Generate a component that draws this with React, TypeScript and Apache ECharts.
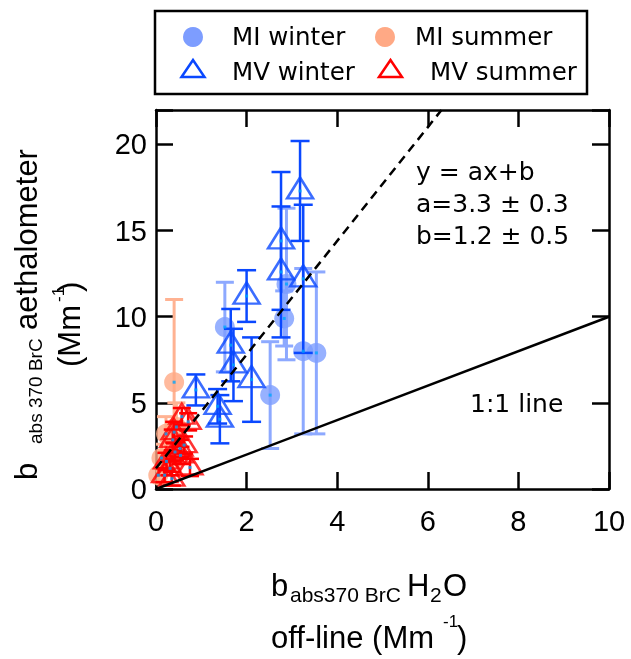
import React, { useEffect, useRef } from "react";
import * as echarts from "echarts";

// ---------- data ----------
// [x, y, error]
const MI_WINTER = [
  [2.88, 11.9, 4.4],
  [2.83, 9.9, 1.6],
  [3.25, 8.0, 4.8],
  [3.54, 7.9, 4.7],
  [2.52, 5.45, 3.1],
  [1.52, 9.4, 2.6],
];
const MI_SUMMER = [
  [0.4, 6.2, 4.8],
  [0.45, 3.6, 1.4],
  [0.22, 3.2, 1.0],
  [0.12, 1.8, 0.8],
  [0.05, 0.8, 0.5],
];
const MV_WINTER = [
  [3.18, 17.3, 2.9],
  [3.25, 12.2, 4.3],
  [2.76, 14.4, 4.0],
  [2.76, 12.6, 3.8],
  [2.0, 11.2, 1.5],
  [1.65, 8.35, 2.1],
  [1.71, 7.2, 2.1],
  [2.11, 6.35, 2.45],
  [0.88, 5.75, 0.9],
  [1.36, 4.8, 1.0],
  [1.41, 4.05, 1.4],
];
const MV_SUMMER = [
  [0.57, 4.2, 0.5],
  [0.71, 3.9, 0.5],
  [0.4, 3.3, 0.6],
  [0.37, 2.85, 0.6],
  [0.62, 2.55, 0.5],
  [0.53, 2.35, 0.5],
  [0.42, 2.15, 0.5],
  [0.54, 1.95, 0.5],
  [0.23, 1.6, 0.5],
  [0.75, 1.25, 0.5],
  [0.31, 1.2, 0.4],
  [0.19, 0.8, 0.4],
  [0.35, 0.6, 0.4],
];
const FIT_A = 3.3;
const FIT_B = 1.2;
const ONE_TO_ONE = [
  [0, 0],
  [10, 10],
];
const X_MIN = 0;
const X_MAX = 10;
const X_STEP = 2;
const Y_MIN = 0;
const Y_MAX = 22;
const Y_STEP = 5;
const LEGEND_LABELS = ["MI winter", "MI summer", "MV winter", "MV summer"];
const FIT_TEXT = ["y = ax+b", "a=3.3 \u00b1 0.3", "b=1.2 \u00b1 0.5"];
const LINE_TEXT = "1:1 line";

// ---------- styles ----------
const C_MIW = "#7D9DFF";
const C_MIW_ERR = "#8DA9FF";
const C_MIS = "#FFA985";
const C_MIS_ERR = "#FFB292";
const C_MVW = "#0A48FF";
const C_MVS = "#FF0000";
const C_DOT = "#00A8FF";
const SANS = "Liberation Sans, Arial, Helvetica, sans-serif";
const DV = "DejaVu Sans, Verdana, sans-serif";

function errRender(color: string, width: number, cap: number) {
  return (params: any, api: any) => {
    const x = api.value(0);
    const y = api.value(1);
    const e = api.value(2);
    const t = api.coord([x, y + e]);
    const b = api.coord([x, y - e]);
    const h = cap / 2;
    const st = { stroke: color, lineWidth: width };
    return {
      type: "group",
      children: [
        { type: "line", shape: { x1: t[0], y1: t[1], x2: b[0], y2: b[1] }, style: st },
        { type: "line", shape: { x1: t[0] - h, y1: t[1], x2: t[0] + h, y2: t[1] }, style: st },
        { type: "line", shape: { x1: b[0] - h, y1: b[1], x2: b[0] + h, y2: b[1] }, style: st },
      ],
    };
  };
}

function txt(text: string, x: number, baseline: number, fs: number, family: string, extra: any = {}) {
  return {
    type: "text",
    style: {
      text,
      x,
      y: baseline - 0.35 * fs,
      fontSize: fs,
      fontFamily: family,
      fill: "#000",
      textAlign: "left",
      textVerticalAlign: "middle",
      align: "left",
      verticalAlign: "middle",
      ...extra,
    },
  };
}

export default function App() {
  const ref = useRef<HTMLDivElement>(null);
  useEffect(() => {
    if (!ref.current) return;
    const chart = echarts.init(ref.current, undefined, { renderer: "svg" });

    const errSeries = (data: number[][], color: string, w: number, cap: number, z: number) => ({
      type: "custom",
      data,
      encode: { x: 0, y: 1 },
      renderItem: errRender(color, w, cap),
      silent: true,
      z,
      clip: true,
    });
    const markSeries = (data: number[][], symbol: string, size: any, style: any, z: number, offset: number[] = [0, 0]) => ({
      type: "scatter",
      data: data.map((d) => [d[0], d[1]]),
      symbol,
      symbolSize: size,
      symbolOffset: offset,
      itemStyle: style,
      silent: true,
      z,
      emphasis: { disabled: true },
    });

    const allPts = [...MI_WINTER, ...MI_SUMMER, ...MV_WINTER, ...MV_SUMMER];

    const axisCommon = {
      type: "value",
      axisLine: { show: true, onZero: false, lineStyle: { color: "#000", width: 2.5 } },
      axisTick: { show: true, inside: true, length: 17, lineStyle: { color: "#000", width: 2.5 } },
      splitLine: { show: false },
    };

    const option: any = {
      animation: false,
      grid: { left: 156, right: 22, top: 110, bottom: 170, containLabel: false },
      xAxis: [
        {
          ...axisCommon,
          position: "bottom",
          min: X_MIN,
          max: X_MAX,
          interval: X_STEP,
          axisLabel: { fontSize: 29, color: "#000", fontFamily: SANS, margin: 17 },
        },
        {
          ...axisCommon,
          position: "top",
          min: X_MIN,
          max: X_MAX,
          interval: X_STEP,
          axisLabel: { show: false },
        },
      ],
      yAxis: [
        {
          ...axisCommon,
          position: "left",
          min: Y_MIN,
          max: Y_MAX,
          interval: Y_STEP,
          axisLabel: {
            fontSize: 29,
            color: "#000",
            fontFamily: SANS,
            margin: 9,
            formatter: (v: number) => (v % Y_STEP === 0 ? String(v) : ""),
          },
        },
        {
          ...axisCommon,
          position: "right",
          min: Y_MIN,
          max: Y_MAX,
          interval: Y_STEP,
          axisLabel: { show: false },
        },
      ],
      series: [
        errSeries(MI_WINTER, C_MIW_ERR, 3, 18, 2),
        markSeries(MI_WINTER, "circle", 20, { color: C_MIW }, 3),
        errSeries(MI_SUMMER, C_MIS_ERR, 3, 18, 4),
        markSeries(MI_SUMMER, "circle", 20, { color: C_MIS }, 5),
        errSeries(MV_WINTER, C_MVW, 2.5, 19, 6),
        markSeries(MV_WINTER, "triangle", [26, 21], { color: "rgba(0,0,0,0)", borderColor: C_MVW, borderWidth: 2.5 }, 7, [0, -3]),
        errSeries(MV_SUMMER, C_MVS, 2.5, 18, 8),
        markSeries(MV_SUMMER, "triangle", [25, 20], { color: "rgba(0,0,0,0)", borderColor: C_MVS, borderWidth: 2.5 }, 9, [0, -3]),
        {
          type: "line",
          data: [
            [X_MIN, FIT_B],
            [(Y_MAX - FIT_B) / FIT_A, Y_MAX],
          ],
          symbol: "none",
          lineStyle: { color: "#000", width: 2.5, type: [9, 6] },
          silent: true,
          z: 10,
        },
        {
          type: "line",
          data: ONE_TO_ONE,
          symbol: "none",
          lineStyle: { color: "#000", width: 2.5 },
          silent: true,
          z: 10,
        },
        markSeries(allPts, "rect", 3, { color: C_DOT }, 11),
      ],
      graphic: [
        // legend box
        {
          type: "rect",
          shape: { x: 155, y: 11, width: 432, height: 83 },
          style: { fill: "none", stroke: "#000", lineWidth: 2.5 },
        },
        { type: "circle", shape: { cx: 193, cy: 37, r: 10 }, style: { fill: C_MIW } },
        { type: "circle", shape: { cx: 385, cy: 37, r: 10 }, style: { fill: C_MIS } },
        {
          type: "polygon",
          shape: { points: [[181.5, 77], [193, 60], [204.5, 77]] },
          style: { fill: "none", stroke: C_MVW, lineWidth: 2.5 },
        },
        {
          type: "polygon",
          shape: { points: [[379, 77], [390.5, 60], [402, 77]] },
          style: { fill: "none", stroke: C_MVS, lineWidth: 2.5 },
        },
        txt(LEGEND_LABELS[0], 232, 45, 24.5, DV),
        txt(LEGEND_LABELS[1], 415, 45, 24.5, DV),
        txt(LEGEND_LABELS[2], 232, 80, 24.5, DV),
        txt(LEGEND_LABELS[3], 430, 80, 24.5, DV),
        // fit annotation
        txt(FIT_TEXT[0], 416, 180, 25, DV),
        txt(FIT_TEXT[1], 416, 212, 25, DV),
        txt(FIT_TEXT[2], 416, 244, 25, DV),
        txt(LINE_TEXT, 470, 412, 25, DV),
        // x title
        txt("b", 271, 596, 31, SANS),
        txt("abs370 BrC", 290, 602, 21, SANS),
        txt("H", 407, 596, 31, SANS),
        txt("2", 430, 602, 21, SANS),
        txt("O", 443, 596, 31, SANS),
        txt("off-line (Mm", 271, 648, 31, SANS),
        txt("-1", 443, 627, 17, SANS),
        txt(")", 457, 648, 31, SANS),
        // y title (rotated)
        {
          type: "group",
          x: 37,
          y: 480,
          rotation: Math.PI / 2,
          children: [
            txt("b", 0, 0, 31, SANS),
            txt("abs 370 BrC", 36, 5, 19, SANS),
            txt("aethalometer", 150, 0, 31, SANS),
            txt("(Mm", 113, 43, 31, SANS),
            txt("-1", 178, 27, 17, SANS),
            txt(")", 188, 43, 31, SANS),
          ],
        },
      ],
    };
    chart.setOption(option);
    return () => chart.dispose();
  }, []);
  return <div ref={ref} style={{ position: "fixed", left: 0, top: 0, width: 631, height: 659 }} />;
}
